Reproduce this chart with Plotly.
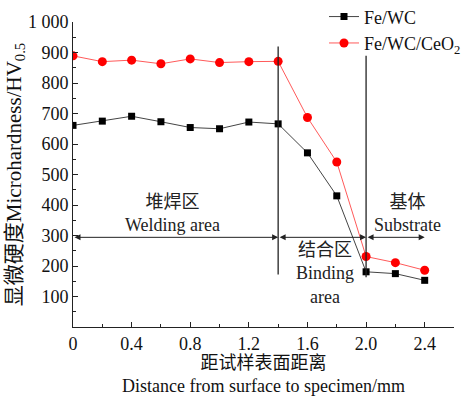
import plotly.graph_objects as go

distance = [0, 0.2, 0.4, 0.6, 0.8, 1.0, 1.2, 1.4, 1.6, 1.8, 2.0, 2.2, 2.4]
fe_wc = [661, 675, 691, 673, 654, 650, 672, 666, 571, 430, 181, 175, 153]
fe_wc_ceo2 = [889, 870, 875, 863, 879, 867, 870, 871, 687, 541, 231, 211, 186]

zone_bounds = [0, 1.4, 2.0, 2.4]
arrow_level = 294
divider_x = [1.4, 2.0]
divider_top = [920, 889]
divider_bottom = [172, 163]

y_tickvals = [100, 200, 300, 400, 500, 600, 700, 800, 900, 1000]
y_ticktext = ["100", "200", "300", "400", "500", "600", "700", "800", "900", "1 000"]
x_tickvals = [0, 0.4, 0.8, 1.2, 1.6, 2.0, 2.4]
x_ticktext = ["0", "0.4", "0.8", "1.2", "1.6", "2.0", "2.4"]

SERIF = "Liberation Serif"
MIXED = "Liberation Serif, Noto Sans CJK SC"

W, H = 472, 396
ML, MB = 73, 69
PLOT_RIGHT, PLOT_TOP = 454, 22


def py_to_val(py):
    return (327 - py) / 0.305


fig = go.Figure()
fig.add_trace(go.Scatter(
    x=distance, y=fe_wc, name="Fe/WC", mode="lines+markers",
    line=dict(color="#444444", width=1),
    marker=dict(symbol="square", size=7, color="#000000"),
))
fig.add_trace(go.Scatter(
    x=distance, y=fe_wc_ceo2, name="Fe/WC/CeO<sub>2</sub>", mode="lines+markers",
    line=dict(color="#ff5a5a", width=1),
    marker=dict(symbol="circle", size=9, color="#ff0000"),
))

shapes = []
for xv, top, bot in zip(divider_x, divider_top, divider_bottom):
    shapes.append(dict(type="line", xref="x", yref="y", x0=xv, x1=xv, y0=bot, y1=top,
                       line=dict(color="#222222", width=1.3)))

annotations = []
for a, b in zip(zone_bounds[:-1], zone_bounds[1:]):
    annotations.append(dict(
        x=b, y=arrow_level, ax=a, ay=arrow_level, xref="x", yref="y", axref="x", ayref="y",
        showarrow=True, arrowhead=2, arrowside="end+start", arrowsize=1.2, arrowwidth=1,
        arrowcolor="#222222", text="",
    ))

labels = [
    (0.68, 213, "堆焊区<br>Welding area"),
    (2.28, 213, "基体<br>Substrate"),
    (1.72, 273, "结合区<br>Binding<br>area"),
]
for xv, py, txt in labels:
    annotations.append(dict(x=xv, y=py_to_val(py), xref="x", yref="y", text=txt,
                            showarrow=False,
                            font=dict(family=MIXED, size=18, color="#222222")))

plot_w = W - ML
plot_h = H - MB

fig.update_layout(
    shapes=shapes, annotations=annotations,
    width=W, height=H,
    margin=dict(l=ML, r=0, t=0, b=MB, autoexpand=False),
    paper_bgcolor="white", plot_bgcolor="white",
    font=dict(family=MIXED, size=18, color="#111111"),
    showlegend=True,
    legend=dict(x=(324 - ML) / plot_w, y=1.005, xanchor="left", yanchor="top",
                bgcolor="rgba(0,0,0,0)", font=dict(family=SERIF, size=18),
                itemwidth=30, tracegroupgap=0),
    xaxis=dict(domain=[0, (PLOT_RIGHT - ML) / plot_w],
               range=[0, 2.6], showgrid=False, zeroline=False, showline=True,
               linecolor="#222222", linewidth=1, ticks="inside", ticklen=5,
               tickcolor="#222222", tickvals=x_tickvals, ticktext=x_ticktext,
               tickfont=dict(family=SERIF, size=18),
               minor=dict(tickvals=[0.2, 0.6, 1.0, 1.4, 1.8, 2.2, 2.6], ticks="inside",
                          ticklen=3, tickcolor="#222222"),
               title=dict(text="距试样表面距离<br>Distance from surface to specimen/mm",
                          font=dict(family=MIXED, size=18), standoff=6)),
    yaxis=dict(domain=[0, (plot_h - PLOT_TOP) / plot_h],
               range=[0, 1000], showgrid=False, zeroline=False, showline=True,
               linecolor="#222222", linewidth=1, ticks="inside", ticklen=5,
               tickcolor="#222222", tickvals=y_tickvals, ticktext=y_ticktext,
               tickfont=dict(family=SERIF, size=18),
               minor=dict(tickvals=[50, 150, 250, 350, 450, 550, 650, 750, 850, 950],
                          ticks="inside", ticklen=3, tickcolor="#222222"),
               title=dict(text="显微硬度Microhardness/HV<sub>0.5</sub>",
                          font=dict(family=MIXED, size=21), standoff=0)),
)

fig.write_html("out.html")
